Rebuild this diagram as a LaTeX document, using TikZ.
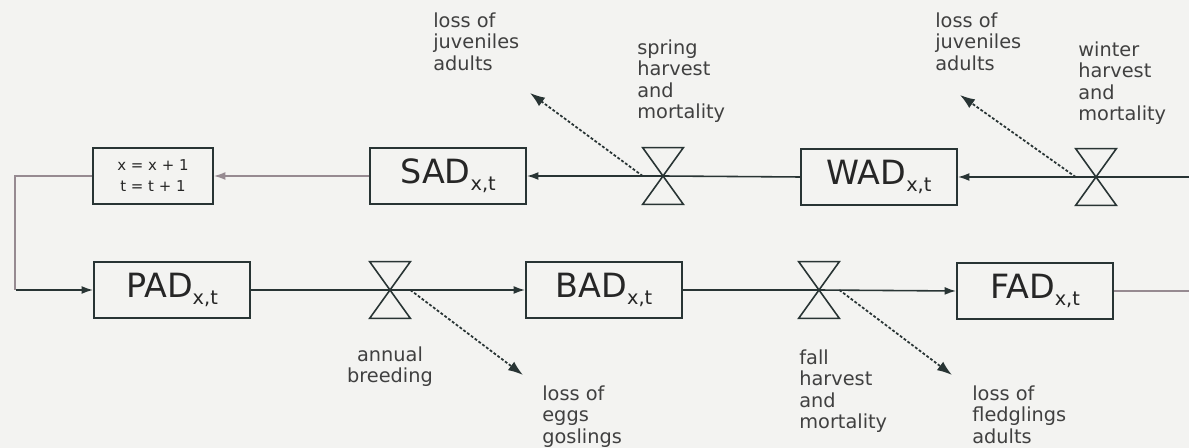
\documentclass[tikz,border=0pt]{standalone}
\usepackage{fontspec}
\setmainfont{DejaVu Sans}
\usepackage{xcolor}
\definecolor{trazo}{RGB}{40,52,52}
\definecolor{tenue}{RGB}{150,138,145}
\definecolor{fondo}{RGB}{243,243,241}
\usepackage{tikz}
\usetikzlibrary{arrows.meta, positioning}
\newcommand{\indice}[1]{\raisebox{-4pt}{\fontsize{11}{11}\selectfont #1}}
\tikzset{
  caja/.style={draw=trazo, line width=1.1pt, minimum width=3.12cm, minimum height=1.12cm, inner sep=0pt, font=\fontsize{19}{22}\selectfont, text=black!85},
  valvula/.style={minimum width=0.8cm, minimum height=1.12cm, inner sep=0pt},
  flujo/.style={draw=trazo, line width=0.9pt},
  fino/.style={draw=tenue, line width=0.7pt},
  punta/.style={-{Latex[length=6.5pt,width=4.5pt]}},
  perdida/.style={draw=trazo, dash pattern=on 1.6pt off 1.1pt, line width=1pt, -{Latex[length=8.5pt,width=6pt]}},
  etiqueta/.style={anchor=north west, align=left, inner sep=0pt, font=\fontsize{11}{12.3}\selectfont, text=black!75}
}

\begin{document}
\begin{tikzpicture}[x=0.02cm, y=-0.02cm]
        % Fondo y marco de la figura
        \fill[fondo] (0,0) rectangle (1189,448);
        \useasboundingbox (0,0) rectangle (1189,448);
        % Cajas de la fila superior
        \node[caja, minimum width=2.4cm, font=\fontsize{8.5}{12}\selectfont, align=center] (upd) at (153,176) {x = x + 1\\ t = t + 1};
        \node[caja] (SAD) at (448,176) {SAD\indice{x,t}};
        \node[valvula] (spring) at (663,176) {};
        \node[caja] (WAD) at (879,177) {WAD\indice{x,t}};
        \node[valvula] (winter) at (1096,177) {};
        % Cajas de la fila inferior
        \node[caja] (PAD) at (172,290) {PAD\indice{x,t}};
        \node[valvula] (annual) at (390,290) {};
        \node[caja] (BAD) at (604,290) {BAD\indice{x,t}};
        \node[valvula] (fall) at (819,290) {};
        \node[caja] (FAD) at (1035,291) {FAD\indice{x,t}};
        % Valvulas en forma de reloj de arena
        \foreach \v in {spring, winter, annual, fall} {
            \draw[flujo] (\v.north west) -- (\v.north east) -- (\v.south west) -- (\v.south east) -- cycle;
        }
        % Extremos libres
        \coordinate (entrada) at (1189,177);
        \coordinate (salida) at (1189,291);
        \coordinate (lossSpring) at (530,93);
        \coordinate (lossWinter) at (960,95);
        \coordinate (lossAnnual) at (523,375);
        \coordinate (lossFall) at (952,375);
        % Flujo de la fila superior
        \draw[flujo] (entrada) -- (winter.center);
        \draw[flujo, punta] (winter.center) -- (WAD.east);
        \draw[flujo] (WAD.west) -- (spring.center);
        \draw[flujo, punta] (spring.center) -- (SAD.east);
        \draw[fino, punta] (SAD.west) -- (upd.east);
        % Vuelta al siguiente anio
        \draw[fino] (upd.west) -- ++(-77,0) -- ++(0,114);
        \draw[flujo, punta] ([xshift=-1.54cm]PAD.west) -- (PAD.west);
        % Flujo de la fila inferior
        \draw[flujo] (PAD.east) -- (annual.center);
        \draw[flujo, punta] (annual.center) -- (BAD.west);
        \draw[flujo] (BAD.east) -- (fall.center);
        \draw[flujo, punta] (fall.center) -- (FAD.west);
        \draw[fino] (FAD.east) -- (salida);
        % Perdidas
        \draw[perdida] (spring.west) -- (lossSpring);
        \draw[perdida] (winter.west) -- (lossWinter);
        \draw[perdida] (annual.east) -- (lossAnnual);
        \draw[perdida] (fall.east) -- (lossFall);
        % Textos
        \node[etiqueta] (tLossSpring) at (433,12) {loss of\\ juveniles\\ adults};
        \node[etiqueta] (tSpring) at (637,39) {spring\\ harvest\\ and\\ mortality};
        \node[etiqueta] (tLossWinter) at (935,12) {loss of\\ juveniles\\ adults};
        \node[etiqueta] (tWinter) at (1078,41) {winter\\ harvest\\ and\\ mortality};
        \node[etiqueta, anchor=north, align=center] (tAnnual) at (390,346) {annual\\ breeding};
        \node[etiqueta] (tLossAnnual) at (542,385) {loss of\\ eggs\\ goslings};
        \node[etiqueta] (tFall) at (799,349) {fall\\ harvest\\ and\\ mortality};
        \node[etiqueta] (tLossFall) at (972,385) {loss of\\ fledglings\\ adults};
    \end{tikzpicture}
\end{document}
